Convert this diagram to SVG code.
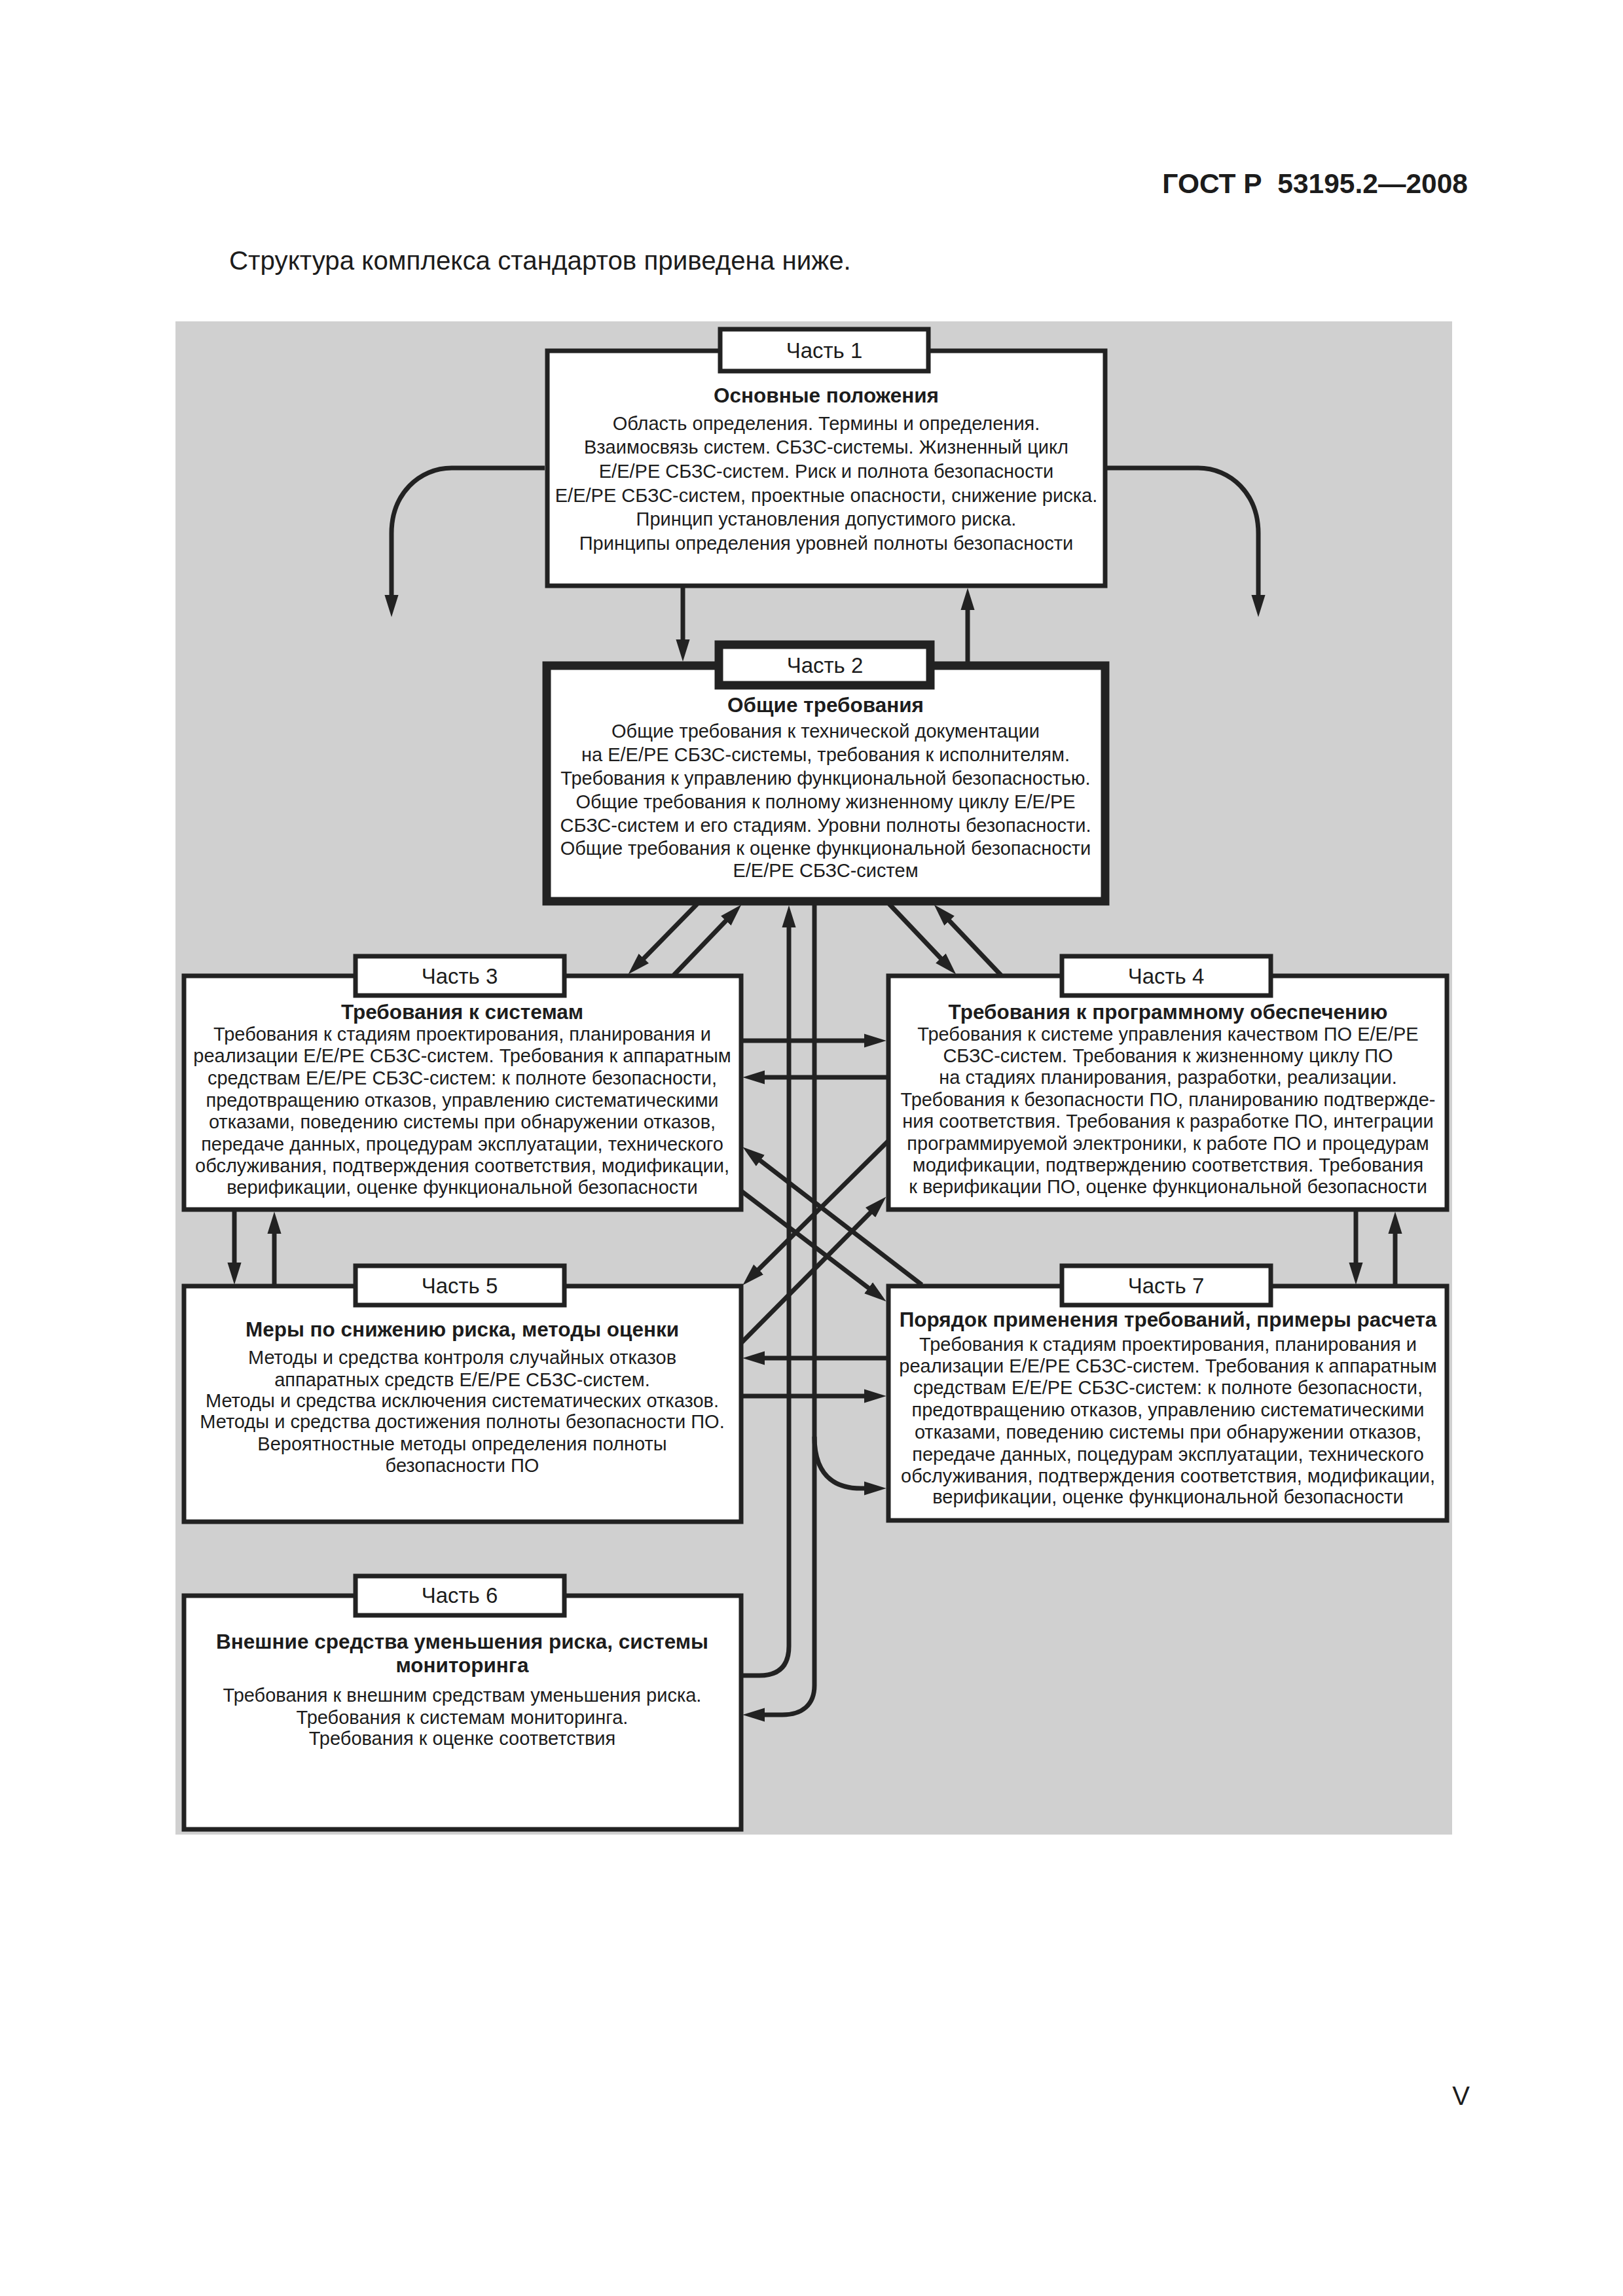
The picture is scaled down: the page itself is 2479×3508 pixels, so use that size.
<svg xmlns="http://www.w3.org/2000/svg" width="2479" height="3508" viewBox="0 0 2479 3508">
<defs>
<style>
.pg{fill:#ffffff}
.bg{fill:#d0d0d0}
.box{fill:#ffffff;stroke:#222222;stroke-width:7}
.box2{fill:#ffffff;stroke:#222222;stroke-width:13}
.lbl{fill:#ffffff;stroke:#222222;stroke-width:7}
.lbl2{fill:#ffffff;stroke:#222222;stroke-width:13}
.ln{fill:none;stroke:#222222;stroke-width:7}
.ln .a{marker-end:url(#ah)}
text{font-family:"Liberation Sans",Arial,sans-serif;fill:#1c1c1c}
.t{font-size:29px;text-anchor:middle}
.h{font-size:31.5px;font-weight:bold;text-anchor:middle}
.l{font-size:33px;text-anchor:middle}
</style>
<marker id="ah" markerUnits="userSpaceOnUse" markerWidth="34" markerHeight="22" viewBox="0 0 32 20" refX="20" refY="10" orient="auto">
<path d="M0,0 L32,10 L0,20 z" fill="#222222"/>
</marker>
</defs>
<rect class="pg" x="0" y="0" width="2479" height="3508"/>
<text x="2242" y="295" style="font-size:42.5px;font-weight:bold;text-anchor:end">ГОСТ Р&#160; 53195.2—2008</text>
<text x="350" y="412" style="font-size:40.3px">Структура комплекса стандартов приведена ниже.</text>
<text x="2245" y="3216" style="font-size:40px;text-anchor:end">V</text>

<rect class="bg" x="268" y="491" width="1950" height="2312"/>

<g id="connectors" class="ln">
<path class="a" d="M1043 898 V998"/>
<path class="a" d="M1478 1012 V911"/>
<path class="a" d="M832 715 H690 C640 715 598 755 598 815 V930"/>
<path class="a" d="M1688 715 H1830 C1880 715 1922 755 1922 815 V930"/>
<path class="a" d="M1065 1381 L968.5 1479.5"/>
<path class="a" d="M1029 1490 L1123.5 1391.5"/>
<path class="a" d="M1358 1381 L1451.5 1479.5"/>
<path class="a" d="M1529 1490 L1435.5 1391.5"/>
<path class="a" d="M1130 2560 H1160 C1190 2560 1205 2545 1205 2515 V1396"/>
<path class="a" d="M1244 1381 V2575 C1244 2605 1225 2620 1195 2620 H1147"/>
<path class="a" d="M1244 2195 C1244 2250 1270 2274 1315 2274 H1341"/>
<path class="a" d="M1130 1590 H1341"/>
<path class="a" d="M1359 1646 H1147"/>
<path class="a" d="M1408 1963 L1144.5 1760.3"/>
<path class="a" d="M1130 1818 L1343.5 1980.7"/>
<path class="a" d="M1359 1741 L1143.5 1954.5"/>
<path class="a" d="M1130 2054 L1344.5 1837.5"/>
<path class="a" d="M1359 2075 H1147"/>
<path class="a" d="M1130 2133 H1341"/>
<path class="a" d="M358 1846 V1950"/>
<path class="a" d="M419 1967 V1864"/>
<path class="a" d="M2071 1846 V1950"/>
<path class="a" d="M2131 1967 V1864"/>
</g>

<g id="part1">
<rect class="box" x="836" y="536" width="852" height="359"/>
<rect class="lbl" x="1100" y="503" width="318" height="64"/>
<text class="l" x="1259" y="547">Часть 1</text>
<text class="h" x="1262" y="615">Основные положения</text>
<text class="t" x="1262" y="657">Область определения. Термины и определения.</text>
<text class="t" x="1262" y="693">Взаимосвязь систем. СБЗС-системы. Жизненный цикл</text>
<text class="t" x="1262" y="730">Е/Е/РЕ СБЗС-систем. Риск и полнота безопасности</text>
<text class="t" x="1262" y="767">Е/Е/РЕ СБЗС-систем, проектные опасности, снижение риска.</text>
<text class="t" x="1262" y="803">Принцип установления допустимого риска.</text>
<text class="t" x="1262" y="840">Принципы определения уровней полноты безопасности</text>
</g>

<g id="part2">
<rect class="box2" x="835" y="1017" width="853" height="360"/>
<rect class="lbl2" x="1098" y="985" width="323" height="62"/>
<text class="l" x="1260" y="1028">Часть 2</text>
<text class="h" x="1261" y="1088">Общие требования</text>
<text class="t" x="1261" y="1127">Общие требования к технической документации</text>
<text class="t" x="1261" y="1163">на Е/Е/РЕ СБЗС-системы, требования к исполнителям.</text>
<text class="t" x="1261" y="1199">Требования к управлению функциональной безопасностью.</text>
<text class="t" x="1261" y="1235">Общие требования к полному жизненному циклу Е/Е/РЕ</text>
<text class="t" x="1261" y="1271">СБЗС-систем и его стадиям. Уровни полноты безопасности.</text>
<text class="t" x="1261" y="1306">Общие требования к оценке функциональной безопасности</text>
<text class="t" x="1261" y="1340">Е/Е/РЕ СБЗС-систем</text>
</g>

<g id="part3">
<rect class="box" x="281" y="1491" width="851" height="357"/>
<rect class="lbl" x="543" y="1461" width="319" height="60"/>
<text class="l" x="702" y="1503">Часть 3</text>
<text class="h" x="706" y="1557">Требования к системам</text>
<text class="t" x="706" y="1590">Требования к стадиям проектирования, планирования и</text>
<text class="t" x="706" y="1623">реализации Е/Е/РЕ СБЗС-систем. Требования к аппаратным</text>
<text class="t" x="706" y="1657">средствам Е/Е/РЕ СБЗС-систем: к полноте безопасности,</text>
<text class="t" x="706" y="1691">предотвращению отказов, управлению систематическими</text>
<text class="t" x="706" y="1724">отказами, поведению системы при обнаружении отказов,</text>
<text class="t" x="706" y="1758">передаче данных, процедурам эксплуатации, технического</text>
<text class="t" x="706" y="1791">обслуживания, подтверждения соответствия, модификации,</text>
<text class="t" x="706" y="1824">верификации, оценке функциональной безопасности</text>
</g>

<g id="part4">
<rect class="box" x="1357" y="1491" width="853" height="357"/>
<rect class="lbl" x="1622" y="1461" width="319" height="60"/>
<text class="l" x="1781" y="1503">Часть 4</text>
<text class="h" x="1784" y="1557">Требования к программному обеспечению</text>
<text class="t" x="1784" y="1590">Требования к системе управления качеством ПО Е/Е/РЕ</text>
<text class="t" x="1784" y="1623">СБЗС-систем. Требования к жизненному циклу ПО</text>
<text class="t" x="1784" y="1656">на стадиях планирования, разработки, реализации.</text>
<text class="t" x="1784" y="1690">Требования к безопасности ПО, планированию подтвержде-</text>
<text class="t" x="1784" y="1723">ния соответствия. Требования к разработке ПО, интеграции</text>
<text class="t" x="1784" y="1757">программируемой электроники, к работе ПО и процедурам</text>
<text class="t" x="1784" y="1790">модификации, подтверждению соответствия. Требования</text>
<text class="t" x="1784" y="1823">к верификации ПО, оценке функциональной безопасности</text>
</g>

<g id="part5">
<rect class="box" x="281" y="1965" width="851" height="360"/>
<rect class="lbl" x="543" y="1934" width="319" height="60"/>
<text class="l" x="702" y="1976">Часть 5</text>
<text class="h" x="706" y="2042">Меры по снижению риска, методы оценки</text>
<text class="t" x="706" y="2084">Методы и средства контроля случайных отказов</text>
<text class="t" x="706" y="2118">аппаратных средств Е/Е/РЕ СБЗС-систем.</text>
<text class="t" x="706" y="2150">Методы и средства исключения систематических отказов.</text>
<text class="t" x="706" y="2182">Методы и средства достижения полноты безопасности ПО.</text>
<text class="t" x="706" y="2216">Вероятностные методы определения полноты</text>
<text class="t" x="706" y="2249">безопасности ПО</text>
</g>

<g id="part7">
<rect class="box" x="1357" y="1965" width="853" height="358"/>
<rect class="lbl" x="1622" y="1934" width="319" height="60"/>
<text class="l" x="1781" y="1976">Часть 7</text>
<text class="h" x="1784" y="2027">Порядок применения требований, примеры расчета</text>
<text class="t" x="1784" y="2064">Требования к стадиям проектирования, планирования и</text>
<text class="t" x="1784" y="2097">реализации Е/Е/РЕ СБЗС-систем. Требования к аппаратным</text>
<text class="t" x="1784" y="2130">средствам Е/Е/РЕ СБЗС-систем: к полноте безопасности,</text>
<text class="t" x="1784" y="2164">предотвращению отказов, управлению систематическими</text>
<text class="t" x="1784" y="2198">отказами, поведению системы при обнаружении отказов,</text>
<text class="t" x="1784" y="2232">передаче данных, поцедурам эксплуатации, технического</text>
<text class="t" x="1784" y="2265">обслуживания, подтверждения соответствия, модификации,</text>
<text class="t" x="1784" y="2297">верификации, оценке функциональной безопасности</text>
</g>

<g id="part6">
<rect class="box" x="281" y="2438" width="851" height="357"/>
<rect class="lbl" x="543" y="2408" width="319" height="60"/>
<text class="l" x="702" y="2449">Часть 6</text>
<text class="h" x="706" y="2519">Внешние средства уменьшения риска, системы</text>
<text class="h" x="706" y="2555">мониторинга</text>
<text class="t" x="706" y="2600">Требования к внешним средствам уменьшения риска.</text>
<text class="t" x="706" y="2634">Требования к системам мониторинга.</text>
<text class="t" x="706" y="2666">Требования к оценке соответствия</text>
</g>
</svg>
